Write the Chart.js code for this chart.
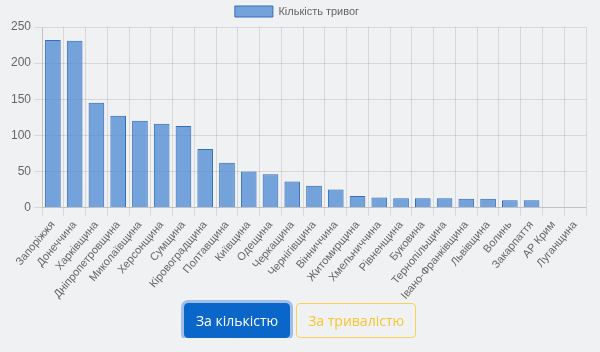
<!DOCTYPE html>
<html>
<head>
<meta charset="utf-8">
<script src="https://cdn.jsdelivr.net/npm/chart.js@4"></script>
<style>
  html, body { margin: 0; padding: 0; background: #f0f1f3; }
  #wrap { width: 600px; height: 305px; position: relative; }
  .buttons { text-align: center; margin-top: -2px; font-size: 0; position: relative; }
  .btn {
    display: inline-block; font-family: "Open Sans", sans-serif; font-size: 14px;
    padding: 7px 11px; border-radius: 4px; margin: 0 3px; cursor: pointer;
  }
  .btn-primary { background: #0a66c9; color: #fff; border: 1px solid #0a66c9; box-shadow: 0 0 0 3px rgba(80,140,220,0.5); }
  .btn-outline { background: transparent; color: #f7c52f; border: 1px solid #f7d25a; }
</style>
</head>
<body>
<div id="wrap"><canvas id="alertsChart"></canvas></div>
<div class="buttons">
  <span class="btn btn-primary">За кількістю</span>
  <span class="btn btn-outline">За тривалістю</span>
</div>
<script>
// області
const regions = ['Запоріжжя', 'Донеччина', 'Харківщина', 'Дніпропетровщина', 'Миколаївщина',
    'Херсонщина', 'Сумщина', 'Кіровоградщина', 'Полтавщина', 'Київщина', 'Одещина',
    'Черкащина', 'Чернігівщина', 'Вінниччина', 'Житомирщина', 'Хмельниччина', 'Рівненщина',
    'Буковина', 'Тернопільщина', 'Івано-Франківщина', 'Львівщина', 'Волинь', 'Закарпаття',
    'АР Крим', 'Луганщина'];

// кількість тривог
const alertCounts = [232, 231, 145, 127, 120, 116, 113, 81, 62, 50, 46, 36,
    30, 25, 16, 14, 13, 13, 13, 12, 12, 10, 10, 0, 0];

const yTicks = { min: 0, max: 250, step: 50 };

const ctx = document.getElementById('alertsChart').getContext('2d');
new Chart(ctx, {
    type: 'bar',
    data: {
        labels: regions,
        datasets: [{
            label: 'Кількість тривог',
            data: alertCounts,
            backgroundColor: 'rgba(74, 136, 210, 0.75)',
            borderColor: 'rgba(52, 110, 185, 1)',
            borderWidth: 1
        }]
    },
    options: {
        responsive: true,
        maintainAspectRatio: false,
        animation: false,
        layout: { padding: { right: 14, left: 8, top: 0 } },
        plugins: {
            legend: {
                display: true,
                position: 'top',
                labels: { font: { family: 'Liberation Sans', size: 11 }, color: '#666', boxWidth: 38, boxHeight: 11, padding: 6 }
            },
            tooltip: { enabled: false }
        },
        scales: {
            y: {
                min: yTicks.min,
                max: yTicks.max,
                ticks: { stepSize: yTicks.step, color: '#666', font: { family: 'Liberation Sans', size: 12 } },
                grid: { color: 'rgba(0,0,0,0.1)' }
            },
            x: {
                ticks: { color: '#666', maxRotation: 50, minRotation: 50, autoSkip: false,
                    font: { family: 'Liberation Sans', size: 11 } },
                grid: { color: 'rgba(0,0,0,0.1)' }
            }
        }
    }
});
</script>
</body>
</html>
